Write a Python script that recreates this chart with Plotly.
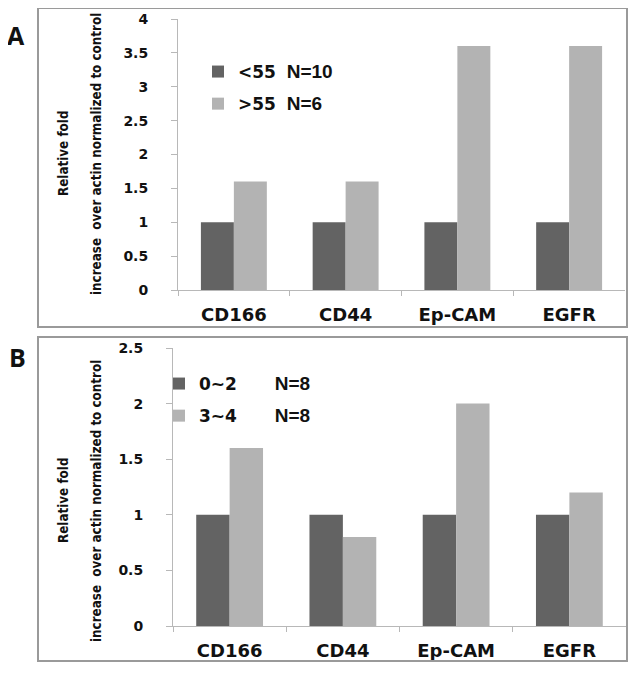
import plotly.graph_objects as go

W, H = 636, 681
OFF = 8  # page body margin offset

categories = ["CD166", "CD44", "Ep-CAM", "EGFR"]
a_series_names = ["<55", ">55"]
a_series_n = ["N=10", "N=6"]
a_low = [1, 1, 1, 1]
a_high = [1.6, 1.6, 3.6, 3.6]
a_ticks = [0, 0.5, 1, 1.5, 2, 2.5, 3, 3.5, 4]

b_series_names = ["0~2", "3~4"]
b_series_n = ["N=8", "N=8"]
b_low = [1, 1, 1, 1]
b_high = [1.6, 0.8, 2.0, 1.2]
b_ticks = [0, 0.5, 1, 1.5, 2, 2.5]

y_title_1 = "Relative fold"
y_title_2 = "increase  over actin normalized to control"

DARK = "#636363"
LIGHT = "#b3b3b3"
AXC = "#b8b8b8"
WIDE = "DejaVu Sans"
NARROW = "DejaVu Sans Condensed"


def px(x):
    return (x - OFF) / W


def py(y):
    return 1 - (y - OFF) / H


def lab(name, n, gap):
    return (f"<span style='font-family:DejaVu Sans;font-weight:bold'>{name}</span>"
            + "\u00a0" * gap
            + f"<span style='font-family:Liberation Sans;font-weight:bold;font-size:19px'>{n}</span>")


fig = go.Figure()

fig.add_trace(go.Bar(x=categories, y=a_low, name=lab(a_series_names[0], a_series_n[0], 2),
                     marker=dict(color=DARK, line=dict(width=0)), xaxis="x", yaxis="y",
                     legend="legend", legendgroup="a1"))
fig.add_trace(go.Bar(x=categories, y=a_high, name=lab(a_series_names[1], a_series_n[1], 2),
                     marker=dict(color=LIGHT, line=dict(width=0)), xaxis="x", yaxis="y",
                     legend="legend", legendgroup="a2"))
fig.add_trace(go.Bar(x=categories, y=b_low, name=lab(b_series_names[0], b_series_n[0], 7),
                     marker=dict(color=DARK, line=dict(width=0)), xaxis="x2", yaxis="y2",
                     legend="legend2", legendgroup="b1"))
fig.add_trace(go.Bar(x=categories, y=b_high, name=lab(b_series_names[1], b_series_n[1], 7),
                     marker=dict(color=LIGHT, line=dict(width=0)), xaxis="x2", yaxis="y2",
                     legend="legend2", legendgroup="b2"))

xcommon = dict(type="category", showline=True, linecolor=AXC, linewidth=1,
               ticks="outside", tickson="boundaries", ticklen=5, tickcolor=AXC,
               showgrid=False, zeroline=False, ticklabelstandoff=8,
               tickfont=dict(family=WIDE, size=18, color="#111", weight="bold"))
ycommon = dict(showline=True, linecolor=AXC, linewidth=1, ticks="outside", ticklen=6,
               tickcolor=AXC, showgrid=False, zeroline=False, ticklabelstandoff=20,
               tickfont=dict(family=WIDE, size=14, color="#111", weight="bold"))

fig.update_layout(
    width=W, height=H,
    margin=dict(l=0, r=0, t=0, b=0, autoexpand=False),
    paper_bgcolor="white", plot_bgcolor="rgba(0,0,0,0)",
    barmode="group", bargap=0.41, bargroupgap=0,
    xaxis=dict(domain=[px(178), px(625)], anchor="y", **xcommon),
    yaxis=dict(domain=[py(290), py(19)], anchor="x", range=[0, 4], tickvals=a_ticks,
               ticktext=[f"{t:g}" for t in a_ticks], **ycommon),
    xaxis2=dict(domain=[px(173), px(626)], anchor="y2", **xcommon),
    yaxis2=dict(domain=[py(626), py(348)], anchor="x2", range=[0, 2.5], tickvals=b_ticks,
                ticktext=[f"{t:g}" for t in b_ticks], **ycommon),
    legend=dict(x=px(198), y=py(54), xanchor="left", yanchor="top",
                bgcolor="rgba(0,0,0,0)", font=dict(size=17, color="#111"),
                tracegroupgap=7, itemwidth=30, traceorder="grouped"),
    legend2=dict(x=px(159), y=py(366), xanchor="left", yanchor="top",
                 bgcolor="rgba(0,0,0,0)", font=dict(size=17, color="#111"),
                 tracegroupgap=7, itemwidth=30, traceorder="grouped"),
    showlegend=True,
    font=dict(family=WIDE),
)

# panel frames
for y0, y1 in [(8, 327), (337, 661)]:
    fig.add_shape(type="rect", xref="paper", yref="paper",
                  x0=px(38), x1=px(627), y0=py(y1), y1=py(y0),
                  line=dict(color="#9a9a9a", width=2), fillcolor="rgba(0,0,0,0)", layer="above")

# panel letters
fig.add_annotation(text="A", xref="paper", yref="paper", x=px(16), y=py(35),
                   xanchor="center", yanchor="middle",
                   showarrow=False, font=dict(family="Open Sans", size=25, color="#111", weight="bold"))
fig.add_annotation(text="B", xref="paper", yref="paper", x=px(17), y=py(357),
                   xanchor="center", yanchor="middle",
                   showarrow=False, font=dict(family="Open Sans", size=25, color="#111", weight="bold"))

# y-axis titles (two lines each)
for cy, xs in [(154, (63, 96)), (501, (63, 96))]:
    fig.add_annotation(text=y_title_1, xref="paper", yref="paper", x=px(xs[0]), y=py(cy),
                       xanchor="center", yanchor="middle",
                       textangle=-90, showarrow=False,
                       font=dict(family=NARROW, size=13.3, color="#111", weight="bold"))
    fig.add_annotation(text=y_title_2, xref="paper", yref="paper", x=px(xs[1]), y=py(cy),
                       xanchor="center", yanchor="middle",
                       textangle=-90, showarrow=False,
                       font=dict(family=NARROW, size=13.3, color="#111", weight="bold"))

fig.write_html("out.html")
